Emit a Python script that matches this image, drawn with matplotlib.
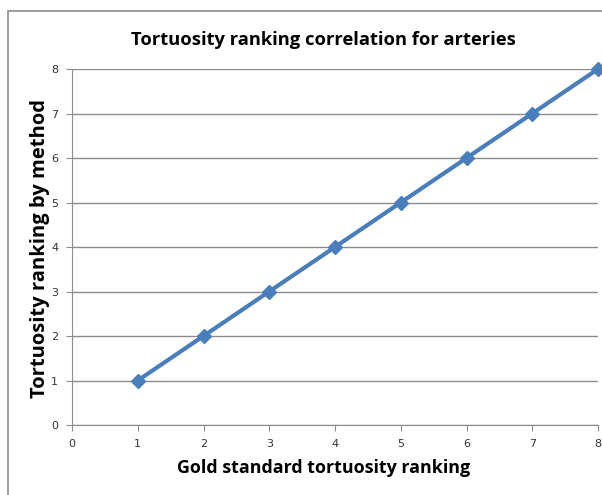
import matplotlib.pyplot as plt
from matplotlib.patches import Rectangle

# gold standard ranking vs ranking by method
gold_rank = [1, 2, 3, 4, 5, 6, 7, 8]
method_rank = [1, 2, 3, 4, 5, 6, 7, 8]
x_ticks = [0, 1, 2, 3, 4, 5, 6, 7, 8]
y_ticks = [0, 1, 2, 3, 4, 5, 6, 7, 8]

fig = plt.figure(figsize=(6.02, 4.95), dpi=100)
ax = fig.add_axes([0.1196, 0.1414, 0.8738, 0.7192])

# chart area border (cropped on right and bottom)
fig.patches.append(Rectangle((8 / 602, -0.05), 1.2, 1 - 11 / 495 + 0.05,
                             transform=fig.transFigure, fill=False,
                             edgecolor='#8c8c8c', linewidth=1.2))

ax.plot(gold_rank, method_rank, color='#4a7ebb', linewidth=3,
        marker='D', markersize=7, clip_on=False, zorder=3)

ax.set_xlim(0, 8)
ax.set_ylim(0, 8)
ax.set_xticks(x_ticks)
ax.set_yticks(y_ticks)
ax.yaxis.grid(True, color='#8c8c8c', linewidth=1)
ax.set_axisbelow(True)
for s in ['top', 'right']:
    ax.spines[s].set_visible(False)
for s in ['left', 'bottom']:
    ax.spines[s].set_color('#8c8c8c')
ax.tick_params(axis='both', colors='#8c8c8c', labelcolor='#333333',
               labelsize=8, length=4, direction='out', pad=6)

fig.text(0.537, 0.919, 'Tortuosity ranking correlation for arteries',
         ha='center', va='center', fontsize=13.2, fontweight='bold', family='Open Sans')
fig.text(0.538, 0.055, 'Gold standard tortuosity ranking',
         ha='center', va='center', fontsize=12.9, fontweight='bold', family='Open Sans')
fig.text(0.067, 0.497, 'Tortuosity ranking by method', rotation=90,
         ha='center', va='center', fontsize=14.5, fontweight='bold', family='Open Sans')

fig.savefig('out.png', dpi=100)
